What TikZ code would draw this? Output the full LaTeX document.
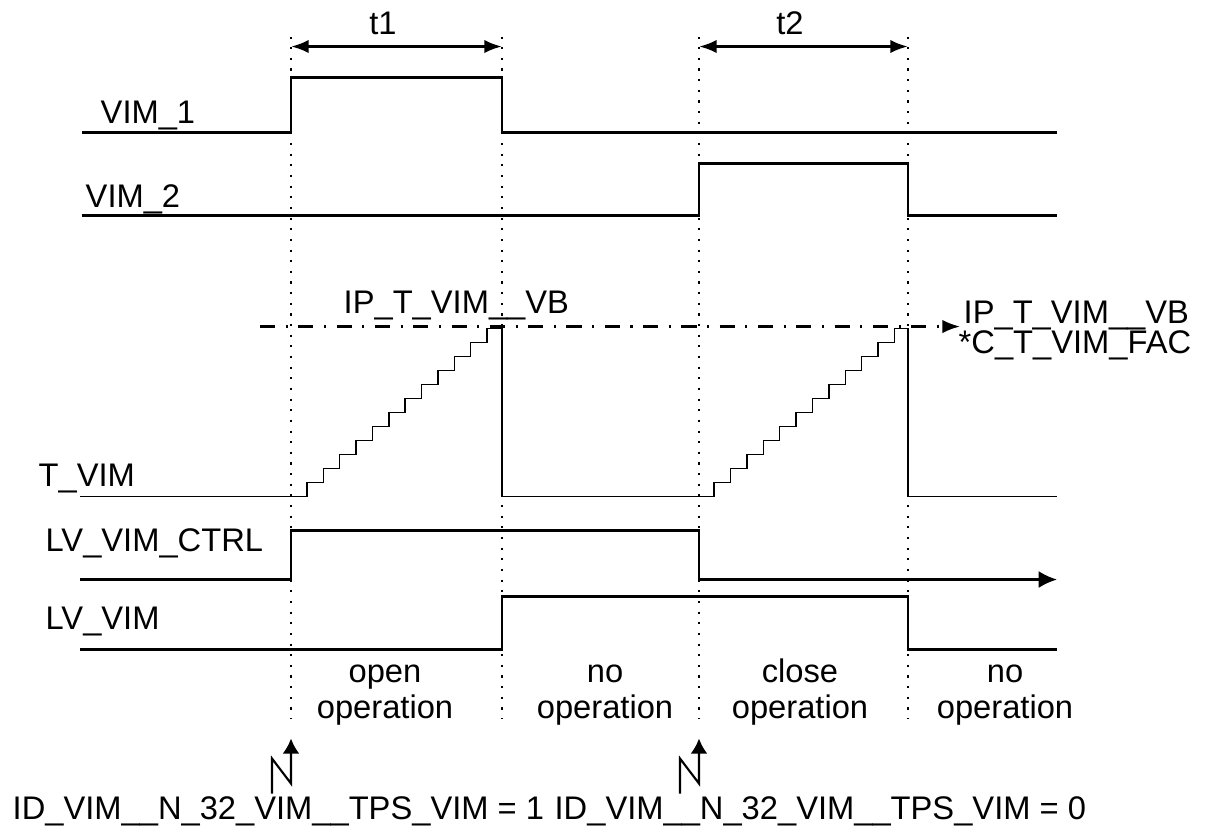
\documentclass[tikz,border=0pt]{standalone}
\usepackage{fontspec}
\setmainfont{Liberation Sans}
\usetikzlibrary{arrows.meta,positioning}

\begin{document}
\begin{tikzpicture}[x=0.1mm,y=-0.1mm,
      font=\fontsize{9.3}{10.2}\selectfont,
      wave/.style={line width=0.65pt,line join=miter},
      stair/.style={line width=0.4pt},
      marker/.style={line width=0.6pt,dash pattern=on 0.6pt off 2.43pt},
      level/.style={line width=0.65pt,dash pattern=on 4.3pt off 3pt on 0.6pt off 3pt,-{Latex[length=5pt,width=3.8pt]}},
      span/.style={line width=0.8pt,{Latex[length=5pt,width=3.8pt]}-{Latex[length=5pt,width=3.8pt]}},
      sig/.style={anchor=base west,inner sep=0pt},
      phase/.style={align=center,anchor=base,inner sep=0pt},
      trig/.style={line width=0.6pt,-{Latex[length=4.3pt,width=4.8pt]}}]
    \fill[white] (0,0) rectangle (1208,827);
    % time markers
    \foreach \x/\n in {291/a,502/b,699/c,908/d} {
      \coordinate (\n top) at (\x,35);
      \coordinate (\n bot) at (\x,717);
      \draw[marker] (\n top) -- (\n bot);
    }
    \coordinate (t1l) at (291,45);
    \coordinate (t1r) at (502,45);
    \coordinate (t2l) at (699,45);
    \coordinate (t2r) at (908,45);
    \draw[span] (t1l) -- (t1r);
    \draw[span] (t2l) -- (t2r);
    \node[anchor=base] (t1) at (383,33) {t1};
    \node[anchor=base] (t2) at (790,33) {t2};
    % signal names
    \node[sig] (vim1) at (100,122) {VIM\_1};
    \node[sig] (vim2) at (85,206) {VIM\_2};
    \node[sig] (tvim) at (38,485) {T\_VIM};
    \node[sig] (ctrl) at (45,550) {LV\_VIM\_CTRL};
    \node[sig] (lvvim) at (45,628) {LV\_VIM};
    % waveforms
    \draw[wave] (82,131) -- (291,131) -- (291,76) -- (502,76) -- (502,131) -- (1057,131);
    \draw[wave] (82,214) -- (699,214) -- (699,162) -- (908,162) -- (908,214) -- (1057,214);
    \draw[stair] (80,495) foreach \k in {0,...,11} { -- ({307+16.36*\k},{495-14*\k}) -- ({307+16.36*\k},{481-14*\k}) }
      -- (502,327) -- (502,495) -- (714,495)
      foreach \k in {0,...,11} { -- ({714+16.4*\k},{495-14*\k}) -- ({714+16.4*\k},{481-14*\k}) }
      -- (908,327) -- (908,495) -- (1057,495);
    \draw[wave,-{Latex[length=5.2pt,width=4.8pt]}] (80,578) -- (291,578) -- (291,529) -- (699,529) -- (699,578) -- (1057,578);
    \draw[wave] (80,648) -- (502,648) -- (502,595) -- (908,595) -- (908,648) -- (1057,648);
    % threshold
    \coordinate (thrl) at (260,325);
    \coordinate (thrr) at (960,325);
    \draw[level] (thrl) -- (thrr);
    \node[sig] (thr) at (343,312) {IP\_T\_VIM\_\_VB};
    \node[sig] (thr2) at (963,322) {IP\_T\_VIM\_\_VB};
    \node[sig] (fac) at (958,352) {*C\_T\_VIM\_FAC};
    % phases
    \node[phase] (open) at (385,717) {open\\operation};
    \node[phase] (idle1) at (605,717) {no\\operation};
    \node[phase] (close) at (800,717) {close\\operation};
    \node[phase] (idle2) at (1005,717) {no\\operation};
    % trigger events
    \draw[trig] (272,792) -- (272,757) -- (291,782) -- (291,737);
    \draw[trig] (680,792) -- (680,757) -- (699,782) -- (699,737);
    \node[sig] (ev1) at (12,818) {ID\_VIM\_\_N\_32\_VIM\_\_TPS\_VIM = 1};
    \node[sig] (ev2) at ([xshift=2.6pt]ev1.base east) {ID\_VIM\_\_N\_32\_VIM\_\_TPS\_VIM = 0};
\end{tikzpicture}
\end{document}
